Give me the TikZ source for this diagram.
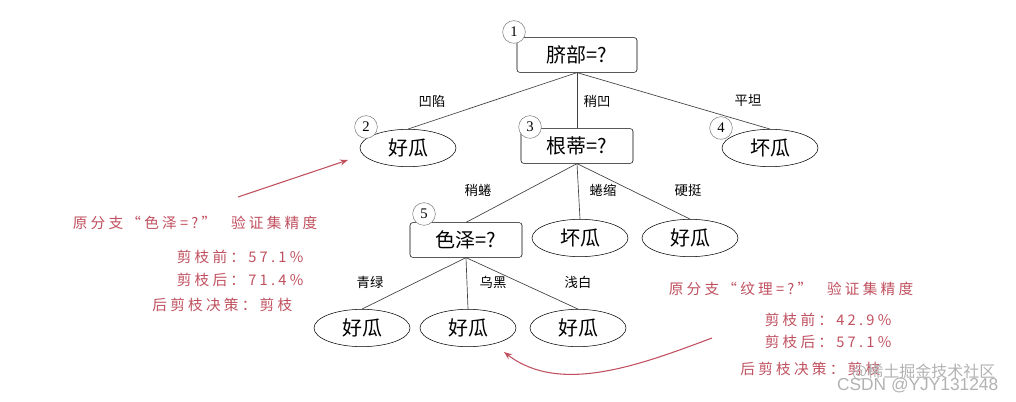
\documentclass[tikz,border=0pt]{standalone}
\usepackage{fontspec}
\setmainfont{Liberation Serif}
\newfontfamily\cjk{Noto Sans CJK SC}
\newfontfamily\cjkw[LetterSpace=22]{Noto Sans CJK SC}
\newfontfamily\wm{Liberation Sans}
\usetikzlibrary{shapes.geometric,arrows.meta}
\definecolor{redtxt}{HTML}{C0505F}
\tikzset{
 x=0.75pt,y=-0.75pt,
 box/.style={draw,rounded corners=2pt,minimum width=84pt,minimum height=26pt,font=\cjk\fontsize{15}{15}\selectfont,inner sep=0pt},
 leaf/.style={draw,ellipse,minimum width=72pt,minimum height=28pt,font=\cjk\fontsize{15}{15}\selectfont,inner sep=0pt},
 num/.style={draw=gray,circle,fill=white,minimum size=17pt,inner sep=0pt,font=\fontsize{11}{11}\selectfont},
 lab/.style={font=\cjk\fontsize{10}{10}\selectfont},
 red/.style={text=redtxt,font=\cjkw\fontsize{11}{11}\selectfont},
 edge/.style={draw=black!75,line width=0.5pt},
 rarr/.style={draw=redtxt,line width=0.8pt,-{Stealth[length=6pt]}}
}
\begin{document}
\begin{tikzpicture}
\useasboundingbox (0,0) rectangle (1016,402);
\node[box,minimum width=90pt] (n1) at (577,55) {脐部=?};
\node[leaf] (n2) at (408,148) {好瓜};
\node[box] (n3) at (577,146) {根蒂=?};
\node[leaf] (n4) at (770,148) {坏瓜};
\node[box] (n5) at (466,240) {色泽=?};
\node[leaf] (n6) at (580,238) {坏瓜};
\node[leaf] (n7) at (690,238) {好瓜};
\node[leaf] (n8) at (362,328) {好瓜};
\node[leaf] (n9) at (468,328) {好瓜};
\node[leaf] (n10) at (578,328) {好瓜};
\draw[edge] (n1.south) -- (n2.north);
\draw[edge] (n1.south) -- (n3.north);
\draw[edge] (n1.south) -- (n4.north);
\draw[edge] (n3.south) -- (n5.north);
\draw[edge] (n3.south) -- (n6.north);
\draw[edge] (n3.south) -- (n7.north);
\draw[edge] (n5.south) -- (n8.north);
\draw[edge] (n5.south) -- (n9.north);
\draw[edge] (n5.south) -- (n10.north);
\node[num] (c1) at (514,32) {1};
\node[num] (c2) at (366,127) {2};
\node[num] (c3) at (530,127) {3};
\node[num] (c4) at (721,128) {4};
\node[num] (c5) at (424,214) {5};
\node[lab] (l1) at (432,101) {凹陷};
\node[lab] (l2) at (597,101) {稍凹};
\node[lab] (l3) at (748,101) {平坦};
\node[lab] (l4) at (478,190) {稍蜷};
\node[lab] (l5) at (603,190) {蜷缩};
\node[lab] (l6) at (688,190) {硬挺};
\node[lab] (l7) at (370,282) {青绿};
\node[lab] (l8) at (493,282) {乌黑};
\node[lab] (l9) at (578,282) {浅白};
\node[red] (t1) at (195,223) {原分支“色泽=?”\quad 验证集精度};
\node[red,anchor=east] (t1a) at (308,257) {剪枝前：57.1\%};
\node[red,anchor=east] (t1b) at (308,280) {剪枝后：71.4\%};
\node[red,anchor=east] (t1c) at (297,305) {后剪枝决策：剪枝};
\node[red] (t2) at (791,289) {原分支“纹理=?”\quad 验证集精度};
\node[red,anchor=east] (t2a) at (896,320) {剪枝前：42.9\%};
\node[red,anchor=east] (t2b) at (896,342) {剪枝后：57.1\%};
\node[red,anchor=east] (t2c) at (885,369) {后剪枝决策：剪枝};
\coordinate (a1) at (238,197);
\coordinate (a1e) at (348,160);
\draw[rarr] (a1) -- (a1e);
\coordinate (a2) at (712,338);
\coordinate (a2e) at (504,352);
\draw[rarr] (a2) .. controls (640,365) and (560,395) .. (a2e);
\node[font=\wm\fontsize{13}{13}\selectfont,text=gray!60,anchor=east] (w1) at (1003,385) {CSDN @YJY131248};
\node[font=\cjk\fontsize{12}{12}\selectfont,text=gray!60,anchor=east] (w2) at (1000,372) {@稀土掘金技术社区};
\end{tikzpicture}
\end{document}
